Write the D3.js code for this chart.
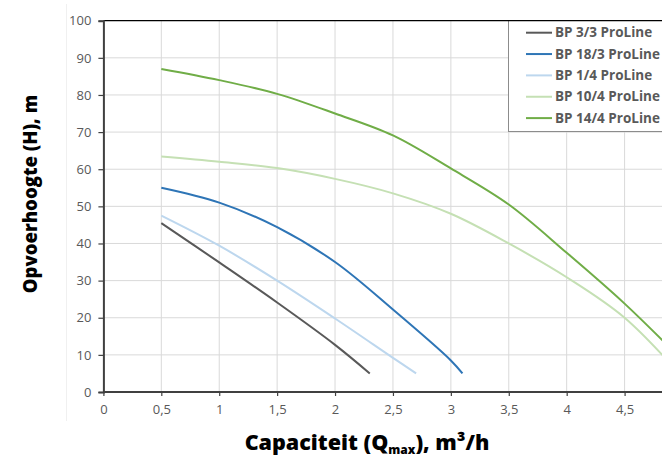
<!DOCTYPE html>
<html><head><meta charset="utf-8">
<script src="https://cdn.jsdelivr.net/npm/d3@7"></script>
<style>html,body{margin:0;padding:0;background:#fff;}svg{display:block;}</style>
</head><body>
<svg id="c" width="662" height="463"></svg>
<script>
// ---- data ----
const seriesNames = ["BP 3/3 ProLine","BP 18/3 ProLine","BP 1/4 ProLine","BP 10/4 ProLine","BP 14/4 ProLine"];
const qBP33  = [0.5, 1, 1.5, 2, 2.3];
const hBP33  = [45.5, 34.9, 24.1, 12.7, 5];
const qBP183 = [0.5, 1, 1.5, 2, 2.5, 3, 3.1];
const hBP183 = [55, 51, 44.4, 35, 22.2, 8.5, 5];
const qBP14  = [0.5, 1, 1.5, 2, 2.5, 2.7];
const hBP14  = [47.5, 39.4, 30, 19.8, 9.2, 5];
const qBP104 = [0.5, 1, 1.5, 2, 2.5, 3, 3.5, 4, 4.5, 5];
const hBP104 = [63.4, 62, 60.3, 57.4, 53.5, 48, 40, 30.9, 20, 4];
const qBP144 = [0.5, 1, 1.5, 2, 2.5, 3, 3.5, 4, 4.5, 5];
const hBP144 = [87, 84, 80.3, 75, 69.1, 60.2, 50.5, 37.5, 23.8, 8.5];
const xTicks = [0, 0.5, 1, 1.5, 2, 2.5, 3, 3.5, 4, 4.5];
const yTicks = [0, 10, 20, 30, 40, 50, 60, 70, 80, 90, 100];
const colors = ["#595959", "#2e75b6", "#bdd7ee", "#c5e0b4", "#70ad47"];

const seriesQ = [qBP33, qBP183, qBP14, qBP104, qBP144];
const seriesH = [hBP33, hBP183, hBP14, hBP104, hBP144];
const series = seriesNames.map((n, i) => ({name: n, color: colors[i],
  pts: seriesQ[i].map((q, j) => [q, seriesH[i][j]])}));

// ---- layout ----
const W = 662, H = 463;
const pL = 103.4, pT = 20.7, pB = 392;
const x = d3.scaleLinear().domain([0, 5]).range([pL, 682.5]);
const y = d3.scaleLinear().domain([0, 100]).range([pB, pT]);
const fmt = d => String(d).replace(".", ",");

const svg = d3.select("#c");
svg.append("rect").attr("width", W).attr("height", H).attr("fill", "#fff");
svg.append("line").attr("x1", 66.5).attr("x2", 66.5).attr("y1", 4).attr("y2", 421)
  .attr("stroke", "#f0f0f0").attr("stroke-width", 1);

svg.append("defs").append("clipPath").attr("id", "clip")
  .append("rect").attr("x", pL).attr("y", pT - 2).attr("width", W - pL).attr("height", pB - pT + 4);

// gridlines
const grid = svg.append("g");
grid.selectAll(".vg").data(xTicks.filter(d => d > 0).concat([5])).join("line")
  .attr("x1", d => x(d)).attr("x2", d => x(d)).attr("y1", pT).attr("y2", pB)
  .attr("stroke", "#d9d9d9").attr("stroke-width", 1);
grid.selectAll(".hg").data(yTicks.filter(d => d > 0 && d < 100)).join("line")
  .attr("x1", pL).attr("x2", W).attr("y1", d => y(d)).attr("y2", d => y(d))
  .attr("stroke", "#d9d9d9").attr("stroke-width", 1);

// top border
svg.append("line").attr("x1", pL).attr("x2", W).attr("y1", pT).attr("y2", pT)
  .attr("stroke", "#000").attr("stroke-width", 1.2);

// axes
const yAxis = d3.axisLeft(y).tickValues(yTicks).tickSize(5).tickPadding(7).tickFormat(d => d);
const gy = svg.append("g").attr("transform", `translate(${pL},0)`).call(yAxis);
const xAxis = d3.axisBottom(x).tickValues(xTicks).tickSize(4).tickPadding(9).tickFormat(fmt);
const gx = svg.append("g").attr("transform", `translate(0,${pB})`).call(xAxis);
[gx, gy].forEach(g => {
  g.select(".domain").attr("stroke", "#404040").attr("stroke-width", 2);
  g.selectAll(".tick line").attr("stroke", "#404040").attr("stroke-width", 1.2);
  g.selectAll(".tick text").attr("fill", "#595959").attr("font-family", "'Open Sans', sans-serif").attr("font-size", 13);
});
gx.select(".domain").attr("d", `M${pL},0H${W}`);

// lines
const line = d3.line().x(d => x(d[0])).y(d => y(d[1])).curve(d3.curveCatmullRom.alpha(0.5));
svg.append("g").attr("clip-path", "url(#clip)").selectAll("path").data(series).join("path")
  .attr("d", d => line(d.pts)).attr("fill", "none").attr("stroke", d => d.color)
  .attr("stroke-width", 2).attr("stroke-linejoin", "round");

// legend
const lg = svg.append("g");
lg.append("rect").attr("x", 508.5).attr("y", 20.5).attr("width", 170).attr("height", 111)
  .attr("fill", "#fff").attr("stroke", "#8c8c8c").attr("stroke-width", 1);
lg.append("line").attr("x1", 508).attr("x2", W).attr("y1", pT).attr("y2", pT)
  .attr("stroke", "#000").attr("stroke-width", 1.2);
const items = lg.selectAll(".it").data(series).join("g")
  .attr("transform", (d, i) => `translate(0,${32.7 + i * 21.35})`);
items.append("line").attr("x1", 526).attr("x2", 552).attr("stroke", d => d.color).attr("stroke-width", 2);
items.append("text").attr("x", 555).attr("dy", "0.35em").text(d => d.name)
  .attr("fill", "#595959").attr("font-family", "'Open Sans', sans-serif")
  .attr("font-weight", 700).attr("font-size", 13.5);

// titles
svg.append("text").attr("transform", "translate(37,194) rotate(-90)").attr("text-anchor", "middle")
  .attr("font-family", "'Open Sans', sans-serif").attr("font-weight", 800).attr("font-size", 18.5)
  .attr("fill", "#000").text("Opvoerhoogte (H), m");
const xt = svg.append("text").attr("x", 367).attr("y", 450).attr("text-anchor", "middle")
  .attr("font-family", "'Open Sans', sans-serif").attr("font-weight", 800).attr("font-size", 21.5)
  .attr("fill", "#000");
xt.append("tspan").text("Capaciteit (Q");
xt.append("tspan").attr("font-size", 12).attr("dy", 4).text("max");
xt.append("tspan").attr("dy", -4).text("), m³/h");
</script>
</body></html>
